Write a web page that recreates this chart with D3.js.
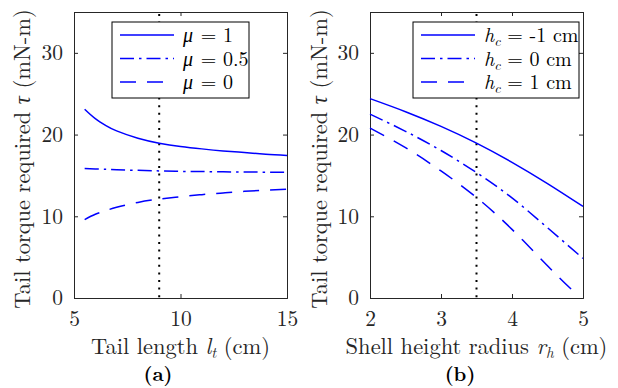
<!DOCTYPE html>
<html>
<head>
<meta charset="utf-8">
<script src="https://cdn.jsdelivr.net/npm/d3@7"></script>
<style>
  body { margin: 0; background: #fff; }
  svg { display: block; }
</style>
</head>
<body>
<div id="chart"></div>
<script>
// panel (a): tail length
const tailLen = [5.5, 6, 6.5, 7, 8, 9, 10, 11, 12, 13, 14, 15];
const mu1 = [23.1, 21.95, 21.1, 20.45, 19.55, 18.95, 18.55, 18.25, 18.0, 17.8, 17.6, 17.45];
const mu05 = [15.85, 15.8, 15.75, 15.7, 15.62, 15.55, 15.5, 15.47, 15.44, 15.42, 15.4, 15.38];
const mu0 = [9.6, 10.25, 10.7, 11.1, 11.7, 12.1, 12.4, 12.65, 12.85, 13.05, 13.2, 13.3];
// panel (b): shell height radius
const shellR = [2, 2.5, 3, 3.5, 4, 4.5, 5];
const shellRshort = [2, 2.5, 3, 3.5, 4, 4.5, 4.86];
const hcNeg1 = [24.4, 22.8, 21.0, 18.95, 16.6, 14.0, 11.2];
const hc0 = [22.5, 20.4, 18.05, 15.35, 12.25, 8.6, 4.85];
const hc1 = [20.8, 18.4, 15.55, 12.3, 8.4, 3.95, 0.86];

const xTicksA = [5, 10, 15];
const xTicksB = [2, 3, 4, 5];
const yTicks = [0, 10, 20, 30];

const FONT = '"Latin Modern Roman", "Liberation Serif", serif';
const width = 618, height = 388;
const svg = d3.select('#chart').append('svg')
  .attr('width', width)
  .attr('height', height)
  .style('font-family', FONT);

const solid = null, dashdot = '14,5,2.5,5', dashed = '16,11';

function drawPanel(o) {
  const x = d3.scaleLinear().domain(o.xDomain).range([o.left, o.right]);
  const y = d3.scaleLinear().domain([0, 35]).range([298, 12]);
  const g = svg.append('g');

  // box axes with inward ticks
  const axes = [
    g.append('g').attr('transform', 'translate(0,' + y(0) + ')')
      .call(d3.axisBottom(x).tickValues(o.xTicks).tickSize(-4).tickPadding(13).tickFormat(d3.format('d'))),
    g.append('g').attr('transform', 'translate(0,' + y(35) + ')')
      .call(d3.axisTop(x).tickValues(o.xTicks).tickSize(-4).tickFormat('')),
    g.append('g').attr('transform', 'translate(' + o.left + ',0)')
      .call(d3.axisLeft(y).tickValues(yTicks).tickSize(-4).tickPadding(11)),
    g.append('g').attr('transform', 'translate(' + o.right + ',0)')
      .call(d3.axisRight(y).tickValues(yTicks).tickSize(-4).tickFormat(''))
  ];
  axes.forEach(a => {
    a.attr('font-family', null).attr('font-size', null);
    a.selectAll('path, line').attr('stroke', '#262626');
    a.selectAll('text').attr('fill', '#262626')
      .style('font-family', FONT).style('font-size', '21.5px');
  });

  // dotted reference line
  g.append('line')
    .attr('x1', x(o.ref)).attr('x2', x(o.ref))
    .attr('y1', y(35) + 2).attr('y2', y(0))
    .attr('stroke', '#000').attr('stroke-width', 2)
    .attr('stroke-dasharray', '2,5.6');

  const line = d3.line().x(d => x(d[0])).y(d => y(d[1])).curve(d3.curveNatural);
  o.series.forEach(s => {
    g.append('path')
      .attr('d', line(s.xs.map((v, i) => [v, s.ys[i]])))
      .attr('fill', 'none')
      .attr('stroke', '#0000ff')
      .attr('stroke-width', 1.5)
      .attr('stroke-dasharray', s.dash);
  });

  // legend
  const lg = g.append('g');
  lg.append('rect')
    .attr('x', o.legend.x).attr('y', 22)
    .attr('width', o.legend.w).attr('height', 76)
    .attr('fill', '#fff').attr('stroke', '#000').attr('stroke-width', 1);
  o.series.forEach((s, i) => {
    const ly = 35 + i * 23.5;
    lg.append('line')
      .attr('x1', o.legend.x + 8).attr('x2', o.legend.x + 62)
      .attr('y1', ly).attr('y2', ly)
      .attr('stroke', '#0000ff').attr('stroke-width', 1.5)
      .attr('stroke-dasharray', s.dash);
    const t = lg.append('text')
      .attr('x', o.legend.x + 71).attr('y', ly + 7)
      .style('font-family', FONT).style('font-size', '20px').attr('fill', '#000');
    s.label(t);
  });

  // axis labels
  const xl = g.append('text')
    .attr('x', (o.left + o.right) / 2).attr('y', 354)
    .attr('text-anchor', 'middle').attr('fill', '#262626')
    .style('font-family', FONT).style('font-size', '22.5px');
  o.xLabel(xl);

  const yl = g.append('text')
    .attr('transform', 'translate(' + o.yLabelX + ',' + 159 + ') rotate(-90)')
    .attr('text-anchor', 'middle').attr('fill', '#262626')
    .style('font-family', FONT).style('font-size', '22.5px');
  yl.append('tspan').text('Tail torque required ');
  yl.append('tspan').style('font-style', 'italic').text('τ');
  yl.append('tspan').text(' (mN-m)');

  g.append('text')
    .attr('x', o.tagX).attr('y', 381)
    .attr('text-anchor', 'middle').attr('fill', '#000')
    .style('font-family', FONT).style('font-size', '20px').style('font-weight', 'bold')
    .text(o.tag);
}

function muLabel(v) {
  return t => {
    t.append('tspan').style('font-style', 'italic').text('μ');
    t.append('tspan').attr('dx', 1).text(' = ' + v);
  };
}
function hcLabel(v) {
  return t => {
    t.append('tspan').style('font-style', 'italic').text('h');
    t.append('tspan').style('font-style', 'italic').style('font-size', '14px').attr('dy', 4).text('c');
    t.append('tspan').attr('dy', -4).text(' = ' + v + ' cm');
  };
}

drawPanel({
  xDomain: [5, 15], left: 74, right: 287, xTicks: xTicksA, ref: 9,
  series: [
    { xs: tailLen, ys: mu1, dash: solid, label: muLabel('1') },
    { xs: tailLen, ys: mu05, dash: dashdot, label: muLabel('0.5') },
    { xs: tailLen, ys: mu0, dash: dashed, label: muLabel('0') }
  ],
  legend: { x: 112, w: 137 },
  xLabel: t => {
    t.append('tspan').text('Tail length ');
    t.append('tspan').style('font-style', 'italic').text('l');
    t.append('tspan').style('font-style', 'italic').style('font-size', '15px').attr('dy', 4).text('t');
    t.append('tspan').attr('dy', -4).text(' (cm)');
  },
  yLabelX: 30, tag: '(a)', tagX: 158
});

drawPanel({
  xDomain: [2, 5], left: 370, right: 583, xTicks: xTicksB, ref: 3.5,
  series: [
    { xs: shellR, ys: hcNeg1, dash: solid, label: hcLabel('-1') },
    { xs: shellR, ys: hc0, dash: dashdot, label: hcLabel('0') },
    { xs: shellRshort, ys: hc1, dash: dashed, label: hcLabel('1') }
  ],
  legend: { x: 413, w: 166 },
  xLabel: t => {
    t.append('tspan').text('Shell height radius ');
    t.append('tspan').style('font-style', 'italic').text('r');
    t.append('tspan').style('font-style', 'italic').style('font-size', '15px').attr('dy', 4).text('h');
    t.append('tspan').attr('dy', -4).text(' (cm)');
  },
  yLabelX: 327, tag: '(b)', tagX: 460
});
</script>
</body>
</html>
